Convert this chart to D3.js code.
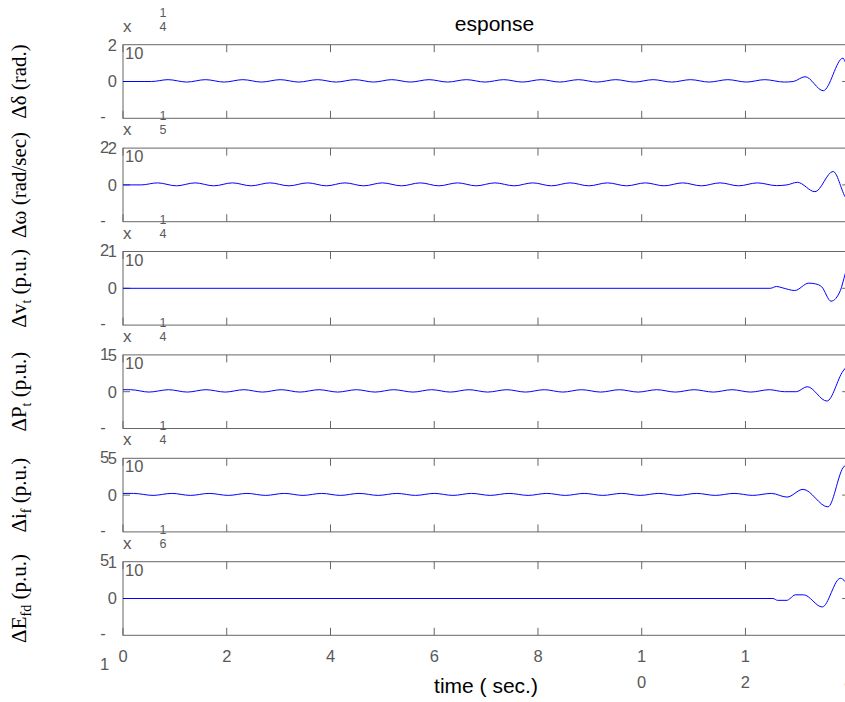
<html>
<head>
<meta charset="utf-8">
<title>Response</title>
<style>
  body { margin: 0; background: #fff; overflow: hidden; }
  svg text { font-family: "Liberation Sans", Arial, sans-serif; }
</style>
</head>
<body>
<div id="container"></div>
<script src="https://cdn.jsdelivr.net/npm/d3@7"></script>
<script>
// x axis ticks (seconds)
var xTicks = [0, 2, 4, 6, 8, 10, 12, 14];

// y label of each panel: [before subscript, subscript, after]
var panelLabels = [
  ["\u0394\u03b4 (rad.)", "", ""],
  ["\u0394\u03c9 (rad/sec)", "", ""],
  ["\u0394v", "t", " (p.u.)"],
  ["\u0394P", "t", " (p.u.)"],
  ["\u0394i", "f", " (p.u.)"],
  ["\u0394E", "fd", " (p.u.)"]
];
var yLimits = [2, 2, 1, 5, 5, 1];
var exponents = ["14", "15", "14", "14", "14", "16"];

// series, [time, value / 10^exponent]
var deltaDelta = [[0,0],[0.55,0],[0.87,0.1],[1.23,-0.03],[1.59,0.1],[1.95,-0.03],[2.31,0.1],[2.67,-0.03],
  [3.03,0.1],[3.39,-0.03],[3.75,0.1],[4.11,-0.03],[4.47,0.1],[4.83,-0.03],[5.18,0.1],[5.54,-0.03],
  [5.90,0.1],[6.26,-0.03],[6.62,0.1],[6.98,-0.03],[7.34,0.1],[7.70,-0.03],[8.06,0.1],[8.42,-0.03],
  [8.78,0.1],[9.14,-0.03],[9.50,0.1],[9.86,-0.03],[10.22,0.1],[10.58,-0.03],[10.94,0.1],[11.30,-0.03],
  [11.66,0.1],[12.02,-0.03],[12.37,0.1],[12.75,-0.03],[12.92,0],[13.15,0.26],[13.5,-0.5],[13.88,1.27],
  [13.92,1.08],[14,0.6]];
var deltaOmega = [[0,0],[0.35,0],[0.665,0.11],[1.03,-0.05],[1.39,0.11],[1.75,-0.05],[2.11,0.11],[2.47,-0.05],
  [2.83,0.11],[3.20,-0.05],[3.56,0.11],[3.92,-0.05],[4.28,0.11],[4.64,-0.05],[5.00,0.11],[5.37,-0.05],
  [5.73,0.11],[6.09,-0.05],[6.45,0.11],[6.81,-0.05],[7.17,0.11],[7.54,-0.05],[7.90,0.11],[8.26,-0.05],
  [8.62,0.11],[8.98,-0.05],[9.34,0.11],[9.71,-0.05],[10.07,0.11],[10.43,-0.05],[10.79,0.11],[11.15,-0.05],
  [11.51,0.11],[11.87,-0.05],[12.23,0.11],[12.6,-0.04],[12.8,0],[13.0,0.14],[13.34,-0.37],[13.69,0.73],
  [13.92,-0.64],[14,-1.0]];
var deltaVt = [[0,0],[12.48,0],[12.6,0.05],[12.72,0.01],[12.95,-0.06],[13.22,0.14],[13.35,0.12],[13.47,0.04],
  [13.65,-0.35],[13.83,-0.06],[13.92,0.38],[14,0.75]];
var deltaPt = [[0,0.27],[0.15,0.27],[0.5,-0.05],[0.88,0.27],[1.24,-0.05],[1.60,0.27],[1.97,-0.05],[2.33,0.27],
  [2.69,-0.05],[3.05,0.27],[3.41,-0.05],[3.78,0.27],[4.14,-0.05],[4.50,0.27],[4.86,-0.05],[5.22,0.27],
  [5.59,-0.05],[5.95,0.27],[6.31,-0.05],[6.67,0.27],[7.03,-0.05],[7.40,0.27],[7.76,-0.05],[8.12,0.27],
  [8.48,-0.05],[8.84,0.27],[9.21,-0.05],[9.57,0.27],[9.93,-0.05],[10.29,0.27],[10.65,-0.05],[11.01,0.27],
  [11.38,-0.05],[11.74,0.27],[12.10,-0.05],[12.46,0.27],[12.75,0],[12.98,0],[13.19,0.68],[13.57,-1.27],
  [13.88,2.8],[14,3.8]];
var deltaIf = [[0,0.23],[0.2,0.23],[0.58,-0.04],[0.94,0.23],[1.30,-0.04],[1.66,0.23],[2.03,-0.04],[2.39,0.23],
  [2.75,-0.04],[3.11,0.23],[3.47,-0.04],[3.83,0.23],[4.19,-0.04],[4.55,0.23],[4.92,-0.04],[5.28,0.23],
  [5.64,-0.04],[6.00,0.23],[6.36,-0.04],[6.72,0.23],[7.08,-0.04],[7.44,0.23],[7.81,-0.04],[8.17,0.23],
  [8.53,-0.04],[8.89,0.23],[9.25,-0.04],[9.61,0.23],[9.97,-0.04],[10.33,0.23],[10.70,-0.04],[11.06,0.23],
  [11.42,-0.04],[11.78,0.23],[12.14,-0.04],[12.50,0.23],[12.8,-0.27],[13.11,0.78],[13.59,-1.6],
  [13.88,3.7],[14,4.5]];
var deltaEfd = [[0,0],[12.53,0],[12.62,-0.05],[12.8,-0.05],[12.86,0],[12.96,0.1],[13.12,0.1],[13.48,-0.23],
  [13.83,0.55],[13.92,0.46],[14,0.25]];

var allSeries = [deltaDelta, deltaOmega, deltaVt, deltaPt, deltaIf, deltaEfd];

function main() {
  var width = 845, height = 702;
  var left = 123, right = 849.2;
  var firstTop = 44.7, step = 103.4, panelH = 73.6;
  var axisColor = "#666666", textColor = "#595959";

  var svg = d3.select("#container").append("svg")
    .attr("width", width)
    .attr("height", height);

  var x = d3.scaleLinear().domain([0, 14]).range([left, right]);

  svg.append("text")
    .attr("x", 494.5).attr("y", 31)
    .attr("text-anchor", "middle")
    .style("font-size", "21px")
    .attr("fill", "#000")
    .text("esponse");

  allSeries.forEach(function(series, i) {
    var top = firstTop + i * step;
    var bottom = top + panelH;
    var lim = yLimits[i];
    var y = d3.scaleLinear().domain([-lim, lim]).range([bottom, top]);

    var g = svg.append("g");

    svg.append("clipPath").attr("id", "clip" + i)
      .append("rect")
      .attr("x", left).attr("y", top)
      .attr("width", right - left).attr("height", panelH);

    // x ticks, inward at top and bottom
    g.selectAll("line.xt").data(xTicks).enter().append("line")
      .attr("x1", function(d) { return x(d); })
      .attr("x2", function(d) { return x(d); })
      .attr("y1", bottom).attr("y2", bottom - 7.5)
      .attr("stroke", axisColor);
    g.selectAll("line.xt2").data(xTicks).enter().append("line")
      .attr("x1", function(d) { return x(d); })
      .attr("x2", function(d) { return x(d); })
      .attr("y1", top).attr("y2", top + 7.5)
      .attr("stroke", axisColor);
    // y ticks at zero, both sides
    g.append("line").attr("x1", left).attr("x2", left + 7)
      .attr("y1", y(0)).attr("y2", y(0)).attr("stroke", axisColor);
    g.append("line").attr("x1", right).attr("x2", right - 7)
      .attr("y1", y(0)).attr("y2", y(0)).attr("stroke", axisColor);

    g.append("rect")
      .attr("x", left).attr("y", top)
      .attr("width", right - left).attr("height", panelH)
      .attr("fill", "none")
      .attr("stroke", axisColor)
      .attr("stroke-width", 1);

    var line = d3.line()
      .x(function(d) { return x(d[0]); })
      .y(function(d) { return y(d[1]); })
      .curve(d3.curveMonotoneX);

    g.append("path")
      .datum(series)
      .attr("clip-path", "url(#clip" + i + ")")
      .attr("fill", "none")
      .attr("stroke", "#0000ff")
      .attr("stroke-width", 1)
      .attr("d", line);

    // y tick labels (narrow, so "-N" wraps onto a second line)
    g.append("text").attr("x", 117).attr("y", y(lim)).attr("dy", "0.36em")
      .attr("text-anchor", "end").attr("fill", textColor).style("font-size", "16.5px")
      .text(lim);
    g.append("text").attr("x", 117).attr("y", y(0)).attr("dy", "0.36em")
      .attr("text-anchor", "end").attr("fill", textColor).style("font-size", "16.5px")
      .text("0");
    g.append("text").attr("x", 103).attr("y", y(-lim) + 4)
      .attr("text-anchor", "middle").attr("fill", textColor).style("font-size", "16.5px")
      .text("-");
    g.append("text").attr("x", 104.5).attr("y", y(-lim) + 34.5)
      .attr("text-anchor", "middle").attr("fill", textColor).style("font-size", "16.5px")
      .text(lim);

    // exponent marker "x 10^NN", wrapped
    g.append("text").attr("x", 123).attr("y", top - 13)
      .attr("fill", textColor).style("font-size", "17px").text("x");
    g.append("text").attr("x", 125).attr("y", top + 14)
      .attr("fill", textColor).style("font-size", "16.5px").text("10");
    g.append("text").attr("x", 163).attr("y", top - 28)
      .attr("text-anchor", "middle").attr("fill", textColor).style("font-size", "12.5px")
      .text(exponents[i].charAt(0));
    g.append("text").attr("x", 163).attr("y", top - 14)
      .attr("text-anchor", "middle").attr("fill", textColor).style("font-size", "12.5px")
      .text(exponents[i].charAt(1));

    // rotated y label
    var lab = panelLabels[i];
    var t = svg.append("text")
      .attr("transform", "translate(26," + (top + panelH / 2) + ") rotate(-90)")
      .attr("text-anchor", "middle")
      .attr("fill", "#000")
      .style("font-family", "'Liberation Serif', 'Times New Roman', serif")
      .style("font-size", "21px");
    t.append("tspan").text(lab[0]);
    if (lab[1]) {
      t.append("tspan").attr("dy", 5).style("font-size", "14px").text(lab[1]);
      t.append("tspan").attr("dy", -5).text(lab[2]);
    }
  });

  // x tick labels under the last panel
  var xl = svg.append("g");
  xTicks.forEach(function(d) {
    var s = String(d);
    xl.append("text").attr("x", x(d)).attr("y", 662)
      .attr("text-anchor", "middle").attr("fill", textColor).style("font-size", "16.5px")
      .text(s.charAt(0));
    if (s.length > 1) {
      xl.append("text").attr("x", x(d)).attr("y", 688)
        .attr("text-anchor", "middle").attr("fill", textColor).style("font-size", "16.5px")
        .text(s.charAt(1));
    }
  });

  svg.append("text")
    .attr("x", 486).attr("y", 693)
    .attr("text-anchor", "middle")
    .attr("fill", "#000")
    .style("font-size", "21px")
    .text("time ( sec.)");
}

window.onload = main;
</script>
</body>
</html>
